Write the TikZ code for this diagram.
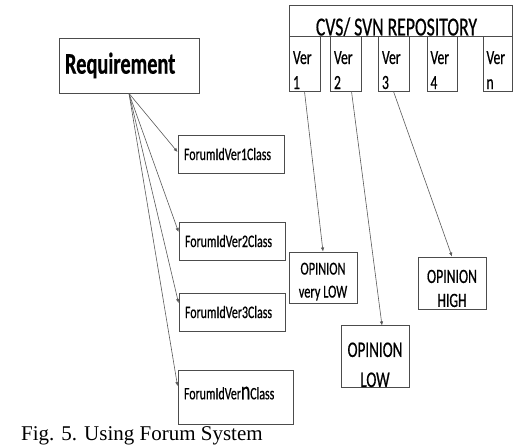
\documentclass[tikz,border=0pt]{standalone}
\usepackage{fontspec}
\setmainfont{Liberation Serif}
\newfontfamily\calib[FakeStretch=0.68, FakeBold=0.6]{Carlito}
\usepackage{tikz}
\usetikzlibrary{arrows.meta, positioning, calc}

\tikzset{
  box/.style={draw=black!70, line width=0.9pt, rectangle, inner sep=0pt},
  classbox/.style={box, minimum width=106, minimum height=38, text width=94, align=left,
    font=\calib\fontsize{17.5}{20}\selectfont},
  verbox/.style={box, minimum height=55, text width=23, align=left,
    font=\calib\fontsize{20}{25}\selectfont},
  opbox/.style={box, minimum width=68, minimum height=51, align=center},
  link/.style={draw=black!65, line width=0.6pt, -{Latex[length=4pt,width=3.5pt]}}
}

\begin{document}
\begin{tikzpicture}[x=1pt, y=-1pt]
  \useasboundingbox (0,0) rectangle (519,445);

  % requirement and its classes
  \node[box, minimum width=140, minimum height=55, text width=128, align=left,
    font=\calib\bfseries\fontsize{30}{32}\selectfont] (req) at (129,65.5) {Requirement};
  \node[classbox] (f1) at (231,154) {ForumIdVer1Class};
  \node[classbox] (f2) at (232,241) {ForumIdVer2Class};
  \node[classbox] (f3) at (232,312) {ForumIdVer3Class};
  \node[classbox, minimum width=115, minimum height=54, text width=103] (fn) at (235.5,397)
    {\rule[-8pt]{0pt}{12pt}ForumIdVer{\fontsize{26}{26}\selectfont n}Class};

  \draw[link] (req.south) -- ([yshift=2pt]f1.west);
  \draw[link] (req.south) -- ([yshift=9pt]f2.west);
  \draw[link] (req.south) -- ([yshift=9pt]f3.west);
  \draw[link] (req.south) -- ([yshift=11pt]fn.west);

  % repository
  \node[box, minimum width=223, minimum height=31] (repo) at (400.5,20.5) {};
  \node[anchor=base, inner sep=0pt, font=\calib\fontsize{26}{28}\selectfont] (repotitle)
    at ([xshift=-4pt,yshift=1pt]repo.south) {CVS/ SVN REPOSITORY};
  \node[verbox, minimum width=31] (v1) at (304.5,63.5) {\rule{0pt}{26pt}Ver\\1};
  \node[verbox, minimum width=31] (v2) at (345.5,63.5) {\rule{0pt}{26pt}Ver\\2};
  \node[verbox, minimum width=31] (v3) at (393.5,63.5) {\rule{0pt}{26pt}Ver\\3};
  \node[verbox, minimum width=30] (v4) at (442,63.5) {\rule{0pt}{26pt}Ver\\4};
  \node[verbox, minimum width=29, text width=22] (vn) at (497.5,63.5) {\rule{0pt}{26pt}Ver\\n};

  % opinions
  \node[opbox, font=\calib\fontsize{18.2}{23}\selectfont] (ovl) at (323,277.5)
    {\rule{0pt}{20pt}OPINION\\very LOW};
  \node[opbox, minimum height=52, font=\calib\fontsize{20.2}{24}\selectfont] (oh) at (452,283)
    {\rule{0pt}{24pt}OPINION\\HIGH};
  \node[opbox, font=\calib\fontsize{22.2}{30}\selectfont] (ol) at (375,356.5)
    {\rule{0pt}{31pt}OPINION\\LOW};

  \draw[link] (v1.south) -- (ovl.north);
  \draw[link] ([xshift=6pt]v2.south) -- ([xshift=7pt]ol.north);
  \draw[link] (v3.south) -- (oh.north);

  % caption
  \node[anchor=base west, fill=white, inner sep=1pt, font=\fontsize{21}{25}\selectfont]
    (caption) at (20,440) {Fig. 5. Using Forum System};
\end{tikzpicture}
\end{document}
